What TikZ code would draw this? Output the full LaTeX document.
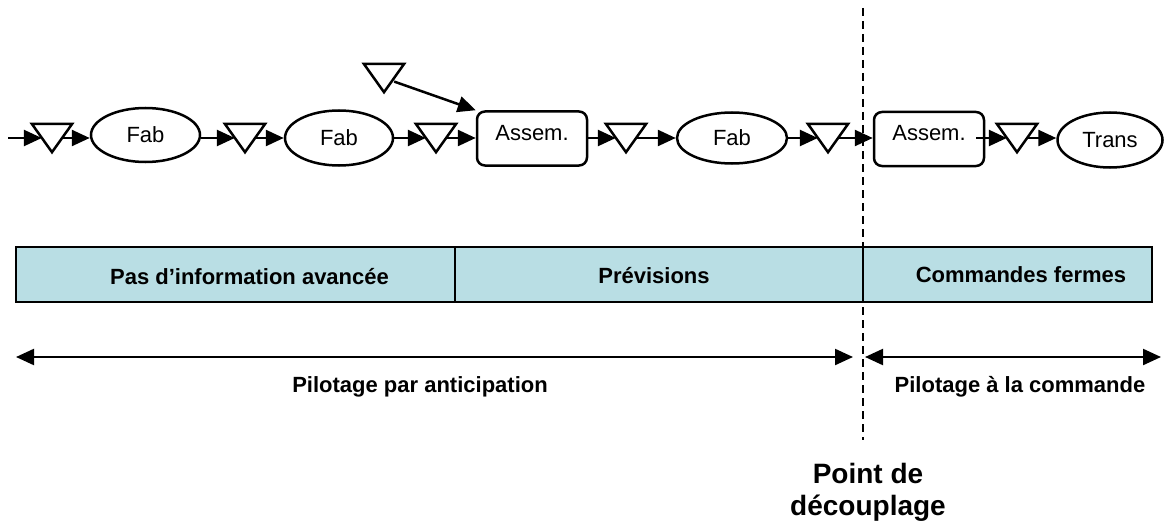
\documentclass[tikz,border=0pt]{standalone}
\usepackage{fontspec}
\setmainfont{Liberation Sans}
\usetikzlibrary{arrows.meta,shapes.geometric,calc}
\definecolor{barfill}{RGB}{185,222,228}
\begin{document}
\begin{tikzpicture}[x=1pt,y=-1pt,
  proc/.style={ellipse,draw,line width=2.5pt,inner sep=0pt,font=\fontsize{22}{26}\selectfont},
  asm/.style={rectangle,rounded corners=8pt,draw,line width=2.5pt,inner sep=0pt,minimum width=110pt,minimum height=54pt,text depth=12pt,font=\fontsize{22}{26}\selectfont},
  stock/.style={rectangle,inner sep=0pt,minimum width=20pt,minimum height=28pt},
  triline/.style={line width=2.5pt,line join=miter},
  arr/.style={line width=2.5pt,-{Triangle[length=18pt,width=16pt]}},
  dbl/.style={line width=2.2pt,{Triangle[length=18pt,width=16pt]}-{Triangle[length=18pt,width=16pt]}},
  barbox/.style={rectangle,draw,line width=1.4pt,fill=barfill,inner sep=0pt,minimum height=55pt},
  bartext/.style={inner sep=0pt,anchor=base,font=\fontsize{22}{26}\selectfont\bfseries},
  sep/.style={line width=1.6pt,dash pattern=on 8pt off 5pt}
]
\useasboundingbox (0,0) rectangle (1166,524);

% bottom bar
\node[barbox,minimum width=439pt] (bar1) at (235.5,274.5) {};
\node[barbox,minimum width=408pt] (bar2) at (659,274.5) {};
\node[barbox,minimum width=289pt] (bar3) at (1007.5,274.5) {};
\node[bartext] (txt1) at (249.5,284) {Pas d’information avancée};
\node[bartext] (txt2) at (654,283) {Prévisions};
\node[bartext] (txt3) at (1021,282) {Commandes fermes};

% decoupling line
\coordinate (dtop) at (863,8);
\coordinate (dbot) at (863,440);
\draw[sep] (dtop) -- (dbot);

% chain
\node[stock] (t1) at (52,138) {};
\node[proc,minimum width=109pt,minimum height=54pt] (f1) at (145.5,135) {Fab};
\node[stock] (t2) at (245,138) {};
\node[proc,minimum width=108pt,minimum height=55pt] (f2) at (339,138) {Fab};
\node[stock] (t3) at (436,138) {};
\node[asm] (a1) at (532,138.5) {Assem.};
\node[stock] (tt) at (384,78) {};
\node[stock] (t4) at (626,138) {};
\node[proc,minimum width=110pt,minimum height=51pt] (f3) at (732,138) {Fab};
\node[stock] (t5) at (828,138) {};
\node[asm] (a2) at (929,139) {Assem.};
\node[stock] (t6) at (1017,138) {};
\node[proc,minimum width=105pt,minimum height=55pt] (tr) at (1110,140) {Trans};

\foreach \t in {t1,t2,t3,tt,t4,t5,t6}
  \draw[triline] ([xshift=-10pt]\t.north west) -- ([xshift=10pt]\t.north east) -- (\t.south) -- cycle;

\coordinate (in) at (8,138);
\draw[arr] (in) -- (t1);
\draw[arr] (t1) -- (t1 -| f1.west);
\draw[arr] (f1.east |- t2) -- (t2);
\draw[arr] (t2) -- (f2);
\draw[arr] (f2) -- (t3);
\draw[arr] (t3) -- (t3 -| a1.west);
\draw[arr] (tt) -- (a1.north west);
\draw[arr] (a1.east |- t4) -- (t4);
\draw[arr] (t4) -- (f3);
\draw[arr] (f3) -- (t5);
\draw[arr] (t5) -- (t5 -| a2.west);
\draw[arr] ([xshift=-9pt]a2.east |- t6) -- (t6);
\draw[arr] (t6) -- (t6 -| tr.west);

% double arrows
\coordinate (l1) at (16,357);
\coordinate (r1) at (853,357);
\coordinate (l2) at (865,357);
\coordinate (r2) at (1161,357);
\draw[dbl] (l1) -- (r1);
\draw[dbl] (l2) -- (r2);
\node[bartext] (pil1) at (420,392) {Pilotage par anticipation};
\node[bartext] (pil2) at (1020,392) {Pilotage à la commande};

\node[inner sep=0pt,anchor=base,align=center,font=\fontsize{28}{32}\selectfont\bfseries] (pdc) at (868,515) {Point de\\découplage};
\end{tikzpicture}
\end{document}
